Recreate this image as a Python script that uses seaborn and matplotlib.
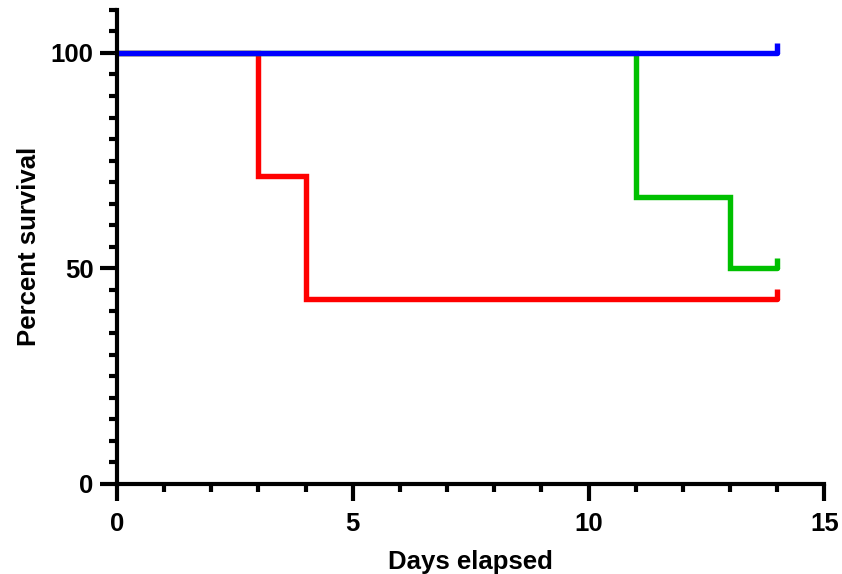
import numpy as np
import pandas as pd
import matplotlib
matplotlib.use("Agg")
import matplotlib.pyplot as plt
import seaborn as sns
from matplotlib.ticker import MultipleLocator

# Survival step data (days, percent survival)
blue_days = [0, 14]
blue_surv = [100, 100]
red_days = [0, 3, 4, 14]
red_surv = [100, 71.43, 42.86, 42.86]
green_days = [0, 11, 13, 14]
green_surv = [100, 66.67, 50, 50]

groups = ["Blue", "Red", "Green"]
colors = {"Blue": "#0000FF", "Red": "#FF0000", "Green": "#00C000"}

df = pd.concat([
    pd.DataFrame({"Days elapsed": blue_days, "Percent survival": blue_surv, "group": "Blue"}),
    pd.DataFrame({"Days elapsed": red_days, "Percent survival": red_surv, "group": "Red"}),
    pd.DataFrame({"Days elapsed": green_days, "Percent survival": green_surv, "group": "Green"}),
], ignore_index=True)

sns.set_style("ticks")
plt.rcParams['font.family'] = ['Liberation Sans', 'DejaVu Sans']
plt.rcParams['text.color'] = 'black'
plt.rcParams['axes.labelcolor'] = 'black'
plt.rcParams['xtick.color'] = 'black'
plt.rcParams['ytick.color'] = 'black'

fig = plt.figure(figsize=(8.42, 5.74), dpi=100)
ax = fig.add_axes([0.139, 0.157, 0.840, 0.826])

draw_order = ["Red", "Green", "Blue"]
for g in draw_order:
    sub = df[df["group"] == g]
    sns.lineplot(data=sub, x="Days elapsed", y="Percent survival", ax=ax,
                 color=colors[g], linewidth=3.9, drawstyle="steps-post",
                 estimator=None, sort=False, legend=False, solid_joinstyle="miter")
    # censored mark at the end
    last = sub.iloc[-1]
    ax.plot([last["Days elapsed"]], [last["Percent survival"]],
            marker=[(0, 0), (0, 1)], markersize=14, markeredgewidth=3.9,
            color=colors[g], linestyle="none")

ax.set_xlim(0, 15)
ax.set_ylim(0, 110)
ax.xaxis.set_major_locator(MultipleLocator(5))
ax.xaxis.set_minor_locator(MultipleLocator(1))
ax.yaxis.set_major_locator(MultipleLocator(50))
ax.yaxis.set_minor_locator(MultipleLocator(5))

for side in ["top", "right"]:
    ax.spines[side].set_visible(False)
for side in ["left", "bottom"]:
    ax.spines[side].set_linewidth(3)
    ax.spines[side].set_color("black")

ax.tick_params(which="major", length=12, width=3, colors="black", labelsize=18.5, pad=5)
ax.tick_params(axis="x", which="major", pad=8)
ax.tick_params(which="minor", length=6, width=3, color="black")
for lab in ax.get_xticklabels() + ax.get_yticklabels():
    lab.set_fontweight("bold")

ax.set_xlabel("Days elapsed", fontsize=18.5, fontweight="bold", labelpad=10, color="black")
ax.set_ylabel("Percent survival", fontsize=18.5, fontweight="bold", labelpad=7, color="black")
for line in ax.lines:
    line.set_clip_on(False)

fig.savefig("out.png", dpi=100, facecolor="white")
